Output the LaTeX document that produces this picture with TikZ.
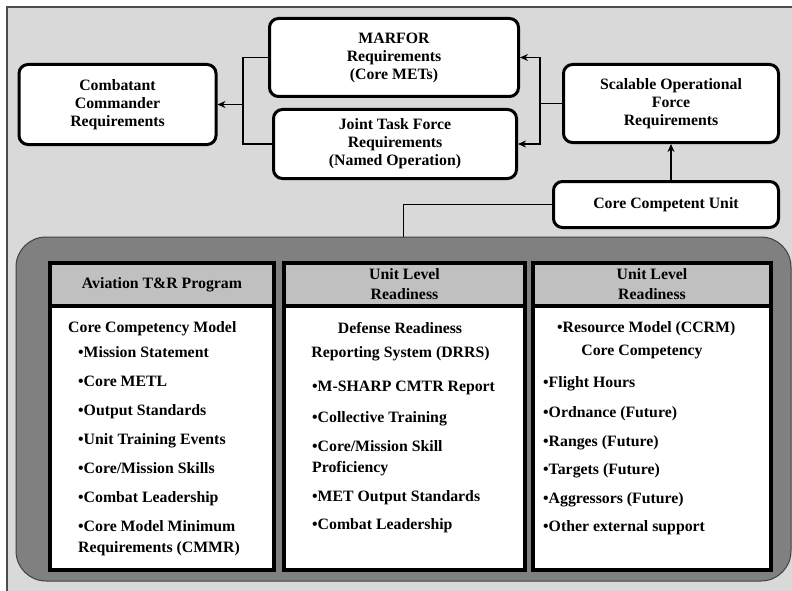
\documentclass[tikz,border=0pt]{standalone}
\usepackage{fontspec}
\setmainfont{Liberation Serif}
\usetikzlibrary{positioning,arrows.meta}
\definecolor{hintergrund}{HTML}{D9D9D9}
\definecolor{rahmen}{HTML}{808080}
\definecolor{kopfgrau}{HTML}{C0C0C0}
\begin{document}
\begin{tikzpicture}[x=1pt,y=-1pt,
                        every node/.style={font=\fontsize{15.8}{18}\selectfont\bfseries},
                        box/.style={draw, line width=3pt, rounded corners=9pt, fill=white, align=center, inner sep=0pt},
                        linie/.style={line width=1.4pt},
                        pfeil/.style={-{Stealth[length=8pt,width=7pt]}, line width=1.4pt},
                        kopf/.style={draw, line width=4pt, fill=kopfgrau, outer sep=0pt, minimum height=43pt, align=center,
                                     font=\fontsize{15.8}{20}\selectfont\bfseries},
                        feld/.style={draw, line width=4pt, fill=white, outer sep=0pt, minimum height=264pt},
                        punkt/.style={anchor=west, inner sep=0pt, text height=11pt, text depth=3pt},
                        mitte/.style={inner sep=0pt, text height=11pt, text depth=3pt},
                        ]
                        \useasboundingbox (0,0) rectangle (792,591);
                        %Hintergrund
                        \fill [hintergrund] (7,7) rectangle (792,591);
                        \draw [line width=1.5pt, black!70] (7,591) -- (7,7) -- (792,7);
                        %Kaesten oben
                        \node [box, minimum width=197pt, minimum height=80pt] (cc) at (117.5,104.5) {Combatant\\Commander\\Requirements};
                        \node [box, minimum width=249pt, minimum height=78pt] (marfor) at (394,57.5) {MARFOR\\Requirements\\(Core METs)};
                        \node [box, minimum width=243pt, minimum height=69pt] (jtf) at (395,144) {Joint Task Force\\Requirements\\(Named Operation)};
                        \node [box, minimum width=215pt, minimum height=78pt] (sof) at (671,103.5) {Scalable Operational\\Force\\Requirements};
                        \node [box, minimum width=225pt, minimum height=46pt] (ccu) at (666,204.5) {Core Competent Unit};
                        %Verbindungen
                        \coordinate (links) at (243,104.5);
                        \coordinate (rechts) at (540,103.5);
                        \draw [linie] (marfor.west) -| (links) |- (jtf.west);
                        \draw [pfeil] (links) -- (cc.east);
                        \draw [linie] (sof.west) -- (rechts);
                        \draw [pfeil] (rechts) |- (marfor.east);
                        \draw [pfeil] (rechts) |- (jtf.east);
                        \draw [pfeil] (ccu.north -| sof.south) -- (sof.south);
                        %grosser Rahmen
                        \node [draw=black!75, line width=1pt, fill=rahmen, rounded corners=30pt, minimum width=775pt, minimum height=344pt] (einheit) at (403.5,409) {};
                        \draw [linie] (ccu.west) -| (einheit.north);
                        %Spalten
                        \node [kopf, minimum width=224pt] (k1) at (162,284.5) {Aviation T\&R Program};
                        \node [kopf, minimum width=241pt, right=10pt of k1] (k2) {Unit Level\\Readiness};
                        \node [kopf, minimum width=238pt, right=8pt of k2] (k3) {Unit Level\\Readiness};
                        \node [feld, minimum width=224pt, below=0pt of k1] (f1) {};
                        \node [feld, minimum width=241pt, below=0pt of k2] (f2) {};
                        \node [feld, minimum width=238pt, below=0pt of k3] (f3) {};
                        %Text erste Spalte
                        \node [punkt] (a0) at (68,328) {Core Competency Model};
                        \node [punkt] (a1) at (78,353) {•Mission Statement};
                        \node [punkt] (a2) at (78,382) {•Core METL};
                        \node [punkt] (a3) at (78,411) {•Output Standards};
                        \node [punkt] (a4) at (78,440) {•Unit Training Events};
                        \node [punkt] (a5) at (78,469) {•Core/Mission Skills};
                        \node [punkt] (a6) at (78,498) {•Combat Leadership};
                        \node [punkt] (a7) at (78,527) {•Core Model Minimum};
                        \node [punkt] (a8) at (78,548) {Requirements (CMMR)};
                        %Text zweite Spalte
                        \node [mitte] (b0) at (400,329) {Defense Readiness};
                        \node [mitte] (b1) at (400.5,353) {Reporting System (DRRS)};
                        \node [punkt] (b2) at (312,387) {•M-SHARP CMTR Report};
                        \node [punkt] (b3) at (312,418) {•Collective Training};
                        \node [punkt] (b4) at (312,447) {•Core/Mission Skill};
                        \node [punkt] (b5) at (312,468) {Proficiency};
                        \node [punkt] (b6) at (312,497) {•MET Output Standards};
                        \node [punkt] (b7) at (312,525) {•Combat Leadership};
                        %Text dritte Spalte
                        \node [punkt] (c0) at (557,328) {•Resource Model (CCRM)};
                        \node [mitte] (c1) at (642,351) {Core Competency};
                        \node [punkt] (c2) at (543,383) {•Flight Hours};
                        \node [punkt] (c3) at (543,413) {•Ordnance (Future)};
                        \node [punkt] (c4) at (543,442) {•Ranges (Future)};
                        \node [punkt] (c5) at (543,470) {•Targets (Future)};
                        \node [punkt] (c6) at (543,499) {•Aggressors (Future)};
                        \node [punkt] (c7) at (543,527) {•Other external support};
                \end{tikzpicture}
\end{document}
